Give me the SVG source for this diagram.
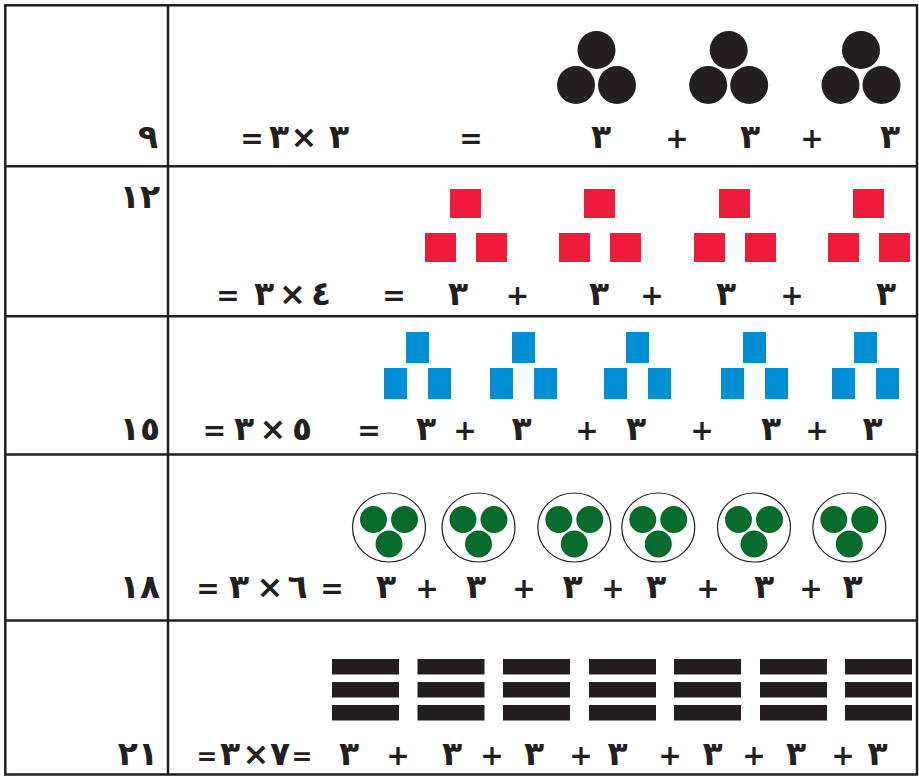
<svg xmlns="http://www.w3.org/2000/svg" width="919" height="776" viewBox="0 0 919 776">
<style>
.t{font-family:"DejaVu Sans","Noto Sans",sans-serif;font-weight:bold;font-size:28px;fill:#231f20;text-anchor:middle}
.d{font-size:33px}
.x{font-size:32px;font-weight:bold}
.e{font-size:25px}
.ln{stroke:#231f20;stroke-width:2.5;fill:none}
.dot{fill:#231f20}
.red{fill:#ef1b3a}
.blue{fill:#008fd5}
.ell{fill:#fff;stroke:#231f20;stroke-width:1.2}
.grn{fill:#076b2d}
.bar{fill:#231f20}
</style>
<defs>
<g id="tri"><circle cx="0" cy="0" r="19"/><circle cx="-20.5" cy="35" r="19"/><circle cx="20.5" cy="35" r="19"/></g>
<g id="rsq"><rect x="0" y="0" width="31" height="29"/><rect x="-25" y="44" width="31" height="29"/><rect x="26" y="44" width="31" height="29"/></g>
<g id="bsq"><rect x="0" y="0" width="23" height="31"/><rect x="-22" y="36" width="23" height="31"/><rect x="22" y="36" width="23" height="31"/></g>
<g id="bag"><ellipse class="ell" cx="0" cy="0" rx="36.5" ry="34.5"/><circle class="grn" cx="-15.5" cy="-8" r="13.5"/><circle class="grn" cx="15.5" cy="-8" r="13.5"/><circle class="grn" cx="0" cy="16.5" r="13.5"/></g>
<g id="bars"><rect x="0" y="0" width="67" height="15.5"/><rect x="0" y="23" width="67" height="15.5"/><rect x="0" y="46" width="67" height="15.5"/></g>
</defs>
<rect x="0" y="0" width="919" height="776" fill="#fff"/>
<g id="grid">
<rect class="ln" x="5.3" y="5.3" width="911.7" height="769.2"/>
<line class="ln" x1="168" y1="5" x2="168" y2="775"/>
<line class="ln" x1="5" y1="166.3" x2="917" y2="166.3"/>
<line class="ln" x1="5" y1="316.3" x2="917" y2="316.3"/>
<line class="ln" x1="5" y1="454.5" x2="917" y2="454.5"/>
<line class="ln" x1="5" y1="620.5" x2="917" y2="620.5"/>
</g>
<g id="row1">
<g class="dot"><use href="#tri" x="596.5" y="50"/><use href="#tri" x="728.7" y="50"/><use href="#tri" x="861" y="50"/></g>
<text class="t d" x="148" y="148">٩</text>
<text class="t" x="252" y="148">=</text><text class="t d" x="279" y="148">٣</text><text class="t x" x="304" y="148">×</text><text class="t d" x="339" y="148">٣</text>
<text class="t" x="471" y="148">=</text>
<text class="t d" x="601" y="148">٣</text><text class="t" x="677" y="148">+</text><text class="t d" x="750" y="148">٣</text><text class="t" x="812" y="148">+</text><text class="t d" x="890" y="148">٣</text>
</g>
<g id="row2">
<g class="red"><use href="#rsq" x="450" y="189"/><use href="#rsq" x="584" y="189"/><use href="#rsq" x="719" y="189"/><use href="#rsq" x="853" y="189"/></g>
<text class="t d" x="140" y="208">١٢</text>
<text class="t" x="228" y="305">=</text><text class="t d" x="264" y="305">٣</text><text class="t x" x="292.5" y="305">×</text><text class="t d" x="321" y="305">٤</text>
<text class="t" x="394" y="305">=</text>
<text class="t d" x="458" y="305">٣</text><text class="t" x="517.5" y="305">+</text><text class="t d" x="599" y="305">٣</text><text class="t" x="652" y="305">+</text><text class="t d" x="726" y="305">٣</text><text class="t" x="792" y="305">+</text><text class="t d" x="886" y="305">٣</text>
</g>
<g id="row3">
<g class="blue"><use href="#bsq" x="406" y="332"/><use href="#bsq" x="512" y="332"/><use href="#bsq" x="626" y="332"/><use href="#bsq" x="743" y="332"/><use href="#bsq" x="854" y="332"/></g>
<text class="t d" x="140" y="440">١٥</text>
<text class="t" x="214.5" y="440">=</text><text class="t d" x="244" y="440">٣</text><text class="t x" x="273" y="440">×</text><text class="t d" x="302" y="440">٥</text>
<text class="t" x="369" y="440">=</text>
<text class="t d" x="426" y="440">٣</text><text class="t" x="465" y="440">+</text><text class="t d" x="521.5" y="440">٣</text><text class="t" x="587" y="440">+</text><text class="t d" x="636" y="440">٣</text><text class="t" x="702" y="440">+</text><text class="t d" x="771" y="440">٣</text><text class="t" x="817" y="440">+</text><text class="t d" x="872.5" y="440">٣</text>
</g>
<g id="row4">
<use href="#bag" x="389" y="527.5"/><use href="#bag" x="478.5" y="527.5"/><use href="#bag" x="574.3" y="527.5"/><use href="#bag" x="658.3" y="527.5"/><use href="#bag" x="754" y="527.5"/><use href="#bag" x="849.3" y="527.5"/>
<text class="t d" x="140" y="598">١٨</text>
<text class="t" x="208" y="598">=</text><text class="t d" x="239" y="598">٣</text><text class="t x" x="270" y="598">×</text><text class="t d" x="297.5" y="598">٦</text><text class="t" x="332" y="598">=</text>
<text class="t d" x="386" y="598">٣</text><text class="t" x="427" y="598">+</text><text class="t d" x="476" y="598">٣</text><text class="t" x="524" y="598">+</text><text class="t d" x="572.5" y="598">٣</text><text class="t" x="613" y="598">+</text><text class="t d" x="656" y="598">٣</text><text class="t" x="708" y="598">+</text><text class="t d" x="764" y="598">٣</text><text class="t" x="811" y="598">+</text><text class="t d" x="852.5" y="598">٣</text>
</g>
<g id="row5">
<g class="bar"><use href="#bars" x="332" y="659"/><use href="#bars" x="417.5" y="659"/><use href="#bars" x="503" y="659"/><use href="#bars" x="589" y="659"/><use href="#bars" x="674" y="659"/><use href="#bars" x="760" y="659"/><use href="#bars" x="845" y="659"/></g>
<text class="t d" x="138" y="765">٢١</text>
<text class="t e" x="207" y="765">=</text><text class="t d" x="230" y="765">٣</text><text class="t x" x="256" y="765">×</text><text class="t d" x="280" y="765">٧</text><text class="t e" x="302" y="765">=</text>
<text class="t d" x="349" y="765">٣</text><text class="t" x="398" y="765">+</text><text class="t d" x="452" y="765">٣</text><text class="t" x="492" y="765">+</text><text class="t d" x="534" y="765">٣</text><text class="t" x="581" y="765">+</text><text class="t d" x="617.5" y="765">٣</text><text class="t" x="670" y="765">+</text><text class="t d" x="712.5" y="765">٣</text><text class="t" x="754" y="765">+</text><text class="t d" x="796" y="765">٣</text><text class="t" x="843" y="765">+</text><text class="t d" x="877.5" y="765">٣</text>
</g>
</svg>
